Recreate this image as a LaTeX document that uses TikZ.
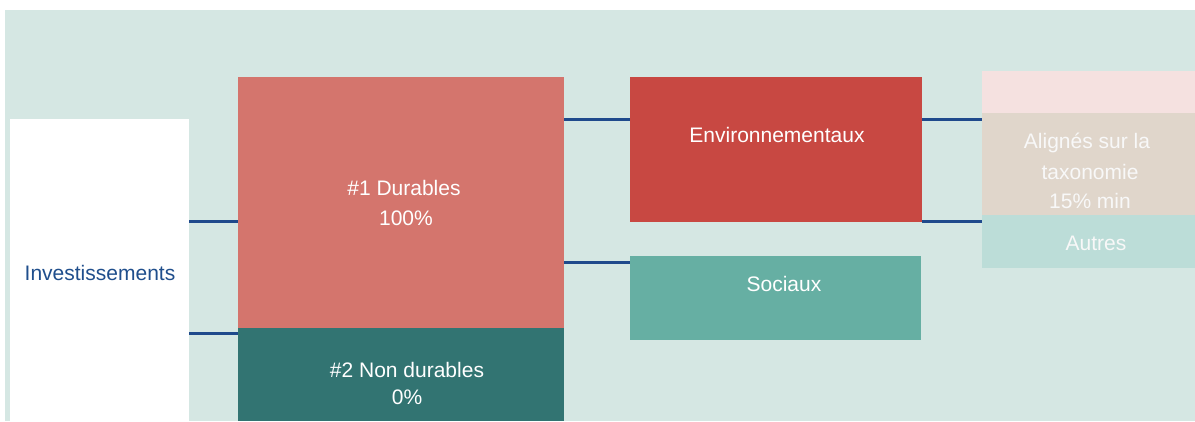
\documentclass[tikz,border=0pt]{standalone}
\usepackage{fontspec}
\setmainfont{Liberation Sans}
\definecolor{bgc}{HTML}{D5E7E3}
\definecolor{durc}{HTML}{D4756D}
\definecolor{nondurc}{HTML}{327472}
\definecolor{envc}{HTML}{C84842}
\definecolor{socc}{HTML}{66AFA3}
\definecolor{pinkc}{HTML}{F5E1E0}
\definecolor{beigec}{HTML}{E0D6CB}
\definecolor{ltealc}{HTML}{BCDDD8}
\definecolor{linec}{HTML}{1F4A8C}
\definecolor{invtxt}{HTML}{1F4E8C}
\definecolor{offwhite}{HTML}{F8F8F8}
\begin{document}
\begin{tikzpicture}[x=1pt,y=-1pt,
  box/.style={inner sep=0pt,outer sep=0pt,draw=none},
  txt/.style={anchor=base,inner sep=0pt,font=\fontsize{21}{29}\selectfont,text=white},
  conn/.style={draw=linec,line width=2.7pt}]
\useasboundingbox (0,0) rectangle (1195,421);
\fill[white] (0,0) rectangle (1195,421);
\fill[bgc] (5,10) rectangle (1195,421);
% boxes
\node[box,fill=white,minimum width=179pt,minimum height=302pt,anchor=north west] (inv) at (10,119) {};
\node[box,fill=durc,minimum width=326pt,minimum height=251pt,anchor=north west] (dur) at (238,77) {};
\node[box,fill=nondurc,minimum width=326pt,minimum height=93pt,anchor=north west] (nondur) at (238,328) {};
\node[box,fill=envc,minimum width=292pt,minimum height=145pt,anchor=north west] (env) at (630,77) {};
\node[box,fill=socc,minimum width=291pt,minimum height=84pt,anchor=north west] (soc) at (630,256) {};
\node[box,fill=pinkc,minimum width=213pt,minimum height=42pt,anchor=north west] (pink) at (982,71) {};
\node[box,fill=beigec,minimum width=213pt,minimum height=102pt,anchor=north west] (tax) at (982,113) {};
\node[box,fill=ltealc,minimum width=213pt,minimum height=53pt,anchor=north west] (autres) at (982,215) {};
% connectors
\draw[conn] (inv.east |- 0,221.5) -- (dur.west |- 0,221.5);
\draw[conn] (inv.east |- 0,333.5) -- (nondur.west |- 0,333.5);
\draw[conn] (dur.east |- 0,119.3) -- (env.west |- 0,119.3);
\draw[conn] (dur.east |- 0,262.7) -- (soc.west |- 0,262.7);
\draw[conn] (env.east |- 0,119.3) -- (tax.west |- 0,119.3);
\draw[conn] (env.east |- 0,221.7) -- (autres.west |- 0,221.7);
% texts
\node[txt,text=invtxt] (tinv) at (100,280) {Investissements};
\node[txt] (tdur1) at (404,195) {\#1 Durables};
\node[txt] (tdur2) at (406,225) {100\%};
\node[txt] (tnd1) at (407,377) {\#2 Non durables};
\node[txt] (tnd2) at (407,404) {0\%};
\node[txt] (tenv) at (777,142) {Environnementaux};
\node[txt] (tsoc) at (784,291) {Sociaux};
\node[txt,text=offwhite] (ttax1) at (1087,148) {Alignés sur la};
\node[txt,text=offwhite] (ttax2) at (1090,179) {taxonomie};
\node[txt,text=offwhite] (ttax3) at (1090,208) {15\% min};
\node[txt,text=offwhite] (taut) at (1096,250) {Autres};
\end{tikzpicture}
\end{document}
